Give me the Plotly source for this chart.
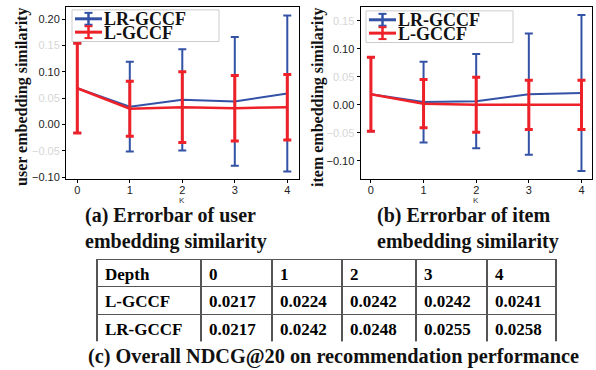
import plotly.graph_objects as go

# ---------------- data ----------------
K = [0, 1, 2, 3, 4]
series_names = ["LR-GCCF", "L-GCCF"]

user_lr_mean = [0.069, 0.034, 0.047, 0.044, 0.059]
user_lr_err = [0.085, 0.085, 0.096, 0.122, 0.148]
user_l_mean = [0.069, 0.030, 0.033, 0.031, 0.033]
user_l_err = [0.085, 0.052, 0.067, 0.062, 0.062]

item_lr_mean = [0.019, 0.005, 0.0065, 0.019, 0.021]
item_lr_err = [0.066, 0.072, 0.084, 0.108, 0.139]
item_l_mean = [0.019, 0.002, 0.0, 0.0, 0.0]
item_l_err = [0.066, 0.043, 0.049, 0.044, 0.044]

user_yticks = [-0.10, -0.05, 0.00, 0.05, 0.10, 0.15, 0.20]
item_yticks = [-0.10, -0.05, 0.00, 0.05, 0.10, 0.15]
faded_ticks = [-0.05, 0.05, 0.15]

table_header = ["Depth", "0", "1", "2", "3", "4"]
table_rows = ["L-GCCF", "LR-GCCF"]
ndcg_lgccf = [0.0217, 0.0224, 0.0242, 0.0242, 0.0241]
ndcg_lrgccf = [0.0217, 0.0242, 0.0248, 0.0255, 0.0258]

captions = ["(a) Errorbar of user<br>embedding similarity",
            "(b) Errorbar of item<br>embedding similarity",
            "(c) Overall NDCG@20 on recommendation performance"]
y_titles = ["user embedding similarity", "item embedding similarity"]

# ---------------- styling ----------------
W, H = 596, 370
BLUE = "#3352a6"
RED = "#ee2129"
SERIF = "Liberation Serif"
SANS = "Liberation Sans"


def px(x):
    return x / W


def py(y):
    return 1 - y / H


def tick_text(vals):
    out = []
    for v in vals:
        s = f"{v:.2f}".replace("-", "\u2212")
        if any(abs(v - f) < 1e-9 for f in faded_ticks):
            s = f"<span style='color:#d6d6d6'>{s}</span>"
        out.append(s)
    return out


fig = go.Figure()

panels = [
    ("x", "y", user_lr_mean, user_lr_err, user_l_mean, user_l_err),
    ("x2", "y2", item_lr_mean, item_lr_err, item_l_mean, item_l_err),
]
for xa, ya, lrm, lre, lm, le in panels:
    fig.add_trace(go.Scatter(
        x=K, y=lrm, mode="lines", name=series_names[0],
        line=dict(color=BLUE, width=2),
        error_y=dict(type="data", array=lre, visible=True, color=BLUE,
                     thickness=2, width=4),
        xaxis=xa, yaxis=ya, showlegend=False))
    fig.add_trace(go.Scatter(
        x=K, y=lm, mode="lines", name=series_names[1],
        line=dict(color=RED, width=2.5),
        error_y=dict(type="data", array=le, visible=True, color=RED,
                     thickness=3, width=4),
        xaxis=xa, yaxis=ya, showlegend=False))

# table
fig.add_trace(go.Table(
    domain=dict(x=[px(97), px(556)], y=[py(345), py(262)]),
    columnwidth=[104, 71, 70, 74, 71, 69],
    header=dict(values=table_header, height=27, align="left",
                font=dict(family=SERIF, size=17, color="black", weight="bold"),
                line=dict(color="#555555", width=1.2), fill_color="white"),
    cells=dict(values=[table_rows] + [[f"{a:.4f}", f"{b:.4f}"]
                                      for a, b in zip(ndcg_lgccf, ndcg_lrgccf)],
               height=28, align="left",
               font=dict(family=SERIF, size=17, color="black", weight="bold"),
               line=dict(color="#555555", width=1.2), fill_color="white"),
))

axis_common = dict(showline=True, linecolor="black", linewidth=1, mirror=True,
                   ticks="outside", ticklen=3, tickcolor="black", showgrid=False,
                   zeroline=False, tickfont=dict(family=SANS, size=11, color="#222222"))

fig.update_layout(
    width=W, height=H, margin=dict(l=0, r=0, t=0, b=0),
    paper_bgcolor="white", plot_bgcolor="white",
    xaxis=dict(domain=[px(66), px(299)], range=[-0.215, 4.223], anchor="y",
               tickvals=K, ticktext=[str(k) for k in K], ticklabelstandoff=-2,
               **axis_common),
    yaxis=dict(domain=[py(181), py(7)], range=[-0.1032, 0.2231], anchor="x",
               tickvals=user_yticks, ticktext=tick_text(user_yticks), **axis_common),
    xaxis2=dict(domain=[px(360.5), px(592)], range=[-0.198, 4.2], anchor="y2",
                tickvals=K, ticktext=[str(k) for k in K], ticklabelstandoff=-2,
                **axis_common),
    yaxis2=dict(domain=[py(181), py(7)], range=[-0.1323, 0.1746], anchor="x2",
                tickvals=item_yticks, ticktext=tick_text(item_yticks), **axis_common),
)

ann = []
shapes = []
# y-axis titles
for xc, t in zip([22, 318], y_titles):
    ann.append(dict(x=px(xc), y=py(98), xref="paper", yref="paper", text=t,
                    textangle=-90, showarrow=False, xanchor="center", yanchor="middle",
                    font=dict(family=SERIF, size=16, color="#111111", weight="bold")))
# x-axis titles "K"
for xc in [182, 476]:
    ann.append(dict(x=px(xc), y=py(202.5), xref="paper", yref="paper", text="K",
                    showarrow=False, xanchor="center", yanchor="middle",
                    height=7, borderpad=0,
                    font=dict(family=SANS, size=8, color="#333333")))
# captions
for xl, t in zip([83, 375], captions[:2]):
    ann.append(dict(x=px(xl), y=py(231), xref="paper", yref="paper", text=t,
                    xanchor="left", yanchor="middle", align="left", showarrow=False,
                    font=dict(family=SERIF, size=20, color="#111111", weight="bold")))
ann.append(dict(x=px(333), y=py(360), xref="paper", yref="paper", text=captions[2],
                xanchor="center", yanchor="middle", showarrow=False,
                font=dict(family=SERIF, size=20.3, color="#111111", weight="bold")))

# legends (one per panel)
for ox, oy in [(0, 0), (294, 1)]:
    shapes.append(dict(type="rect", xref="paper", yref="paper",
                       x0=px(72 + ox), x1=px(219 + ox), y0=py(42 + oy), y1=py(10 + oy),
                       line=dict(color="#cccccc", width=1),
                       fillcolor="rgba(255,255,255,0.85)", layer="above"))
    for name, col, yc in zip(series_names, [BLUE, RED], [19 + oy, 32.5 + oy]):
        cx = 88.5 + ox
        shapes.append(dict(type="line", xref="paper", yref="paper",
                           x0=px(75 + ox), x1=px(102 + ox), y0=py(yc), y1=py(yc),
                           line=dict(color=col, width=3), layer="above"))
        shapes.append(dict(type="line", xref="paper", yref="paper",
                           x0=px(cx), x1=px(cx), y0=py(yc - 6), y1=py(yc + 6),
                           line=dict(color=col, width=2.5), layer="above"))
        for dy in (-6, 6):
            shapes.append(dict(type="line", xref="paper", yref="paper",
                               x0=px(cx - 4), x1=px(cx + 4), y0=py(yc + dy), y1=py(yc + dy),
                               line=dict(color=col, width=2), layer="above"))
        ann.append(dict(x=px(103 + ox), y=py(yc), xref="paper", yref="paper", text=name,
                        xanchor="left", yanchor="middle", showarrow=False, borderpad=0,
                        height=13, valign="middle",
                        font=dict(family=SERIF, size=18, color="#111111", weight="bold")))

fig.update_layout(annotations=ann, shapes=shapes)
fig.write_html("out.html", config={"displayModeBar": False},
               post_script="document.body.style.margin='0px';document.body.style.overflow='hidden';")
